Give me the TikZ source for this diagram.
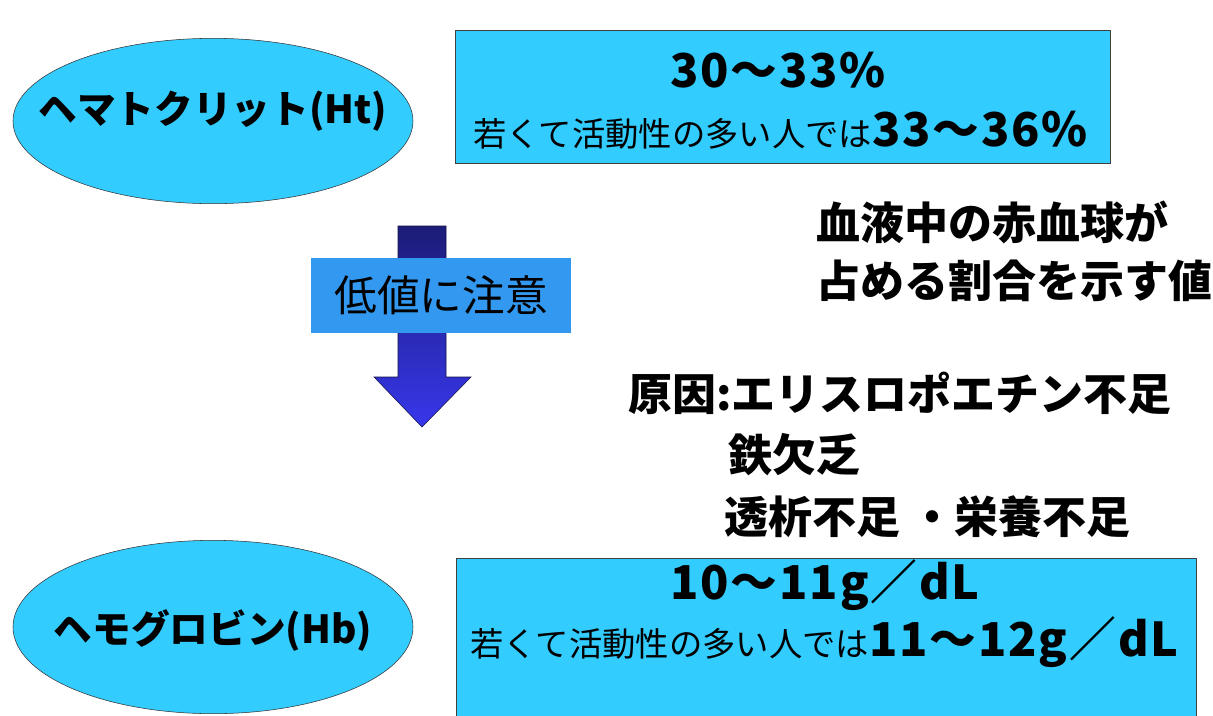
\documentclass[tikz,border=0pt]{standalone}
\usepackage{fontspec}
\setmainfont{Noto Sans CJK JP}
\usetikzlibrary{shapes.geometric}

\definecolor{skyfill}{RGB}{51,204,255}
\definecolor{tagfill}{RGB}{51,153,240}
\definecolor{arrowtop}{RGB}{28,28,120}
\definecolor{arrowbot}{RGB}{55,55,235}

\newcommand{\jpsmall}{\fontsize{25pt}{30pt}\selectfont\mdseries}
\newcommand{\numbig}{\fontsize{35pt}{42pt}\selectfont\bfseries\addfontfeature{LetterSpace=4}}

\tikzset{
  blob/.style={ellipse, draw=black!80, fill=skyfill, minimum width=300pt,
    minimum height=124pt, inner sep=0pt},
  blobtext/.style={font=\fontsize{29pt}{35pt}\selectfont\bfseries, inner sep=0pt},
  valbox/.style={draw=black!75, fill=skyfill, line width=0.6pt},
  tagbox/.style={fill=tagfill, minimum width=195pt, minimum height=56pt,
    inner sep=0pt, font=\fontsize{32pt}{38pt}\selectfont},
  note/.style={anchor=west, inner sep=0pt, font=\fontsize{33pt}{40pt}\selectfont\bfseries}
}

\begin{document}
\begin{tikzpicture}[x=0.75pt,y=-0.75pt]
    \useasboundingbox (0,0) rectangle (1213,715);
    \clip (0,0) rectangle (1213,715);

    % Ellipses on the left
    \node[blob] (ht) at (213,121) {};
    \node[blobtext] (htname) at (213,111) {ヘマトクリット(Ht)};
    \node[blob, minimum height=130pt] (hb) at (213,627) {};
    \node[blobtext] (hbname) at (213,630) {ヘモグロビン(Hb)};

    % Value boxes
    \draw[valbox] (455,30) rectangle (1110,163);
    \node[inner sep=0pt, font=\numbig] (htrange) at (778,70) {30〜33\%};
    \node[anchor=west, inner sep=0pt] (htyoung) at (473,130)
        {\jpsmall 若くて活動性の多い人では\numbig 33〜36\%};

    \draw[valbox] (456,558) rectangle (1196,730);
    \node[inner sep=0pt, font=\numbig] (hbrange) at (825,585) {10〜11g／dL};
    \node[anchor=west, inner sep=0pt] (hbyoung) at (470,642)
        {\jpsmall 若くて活動性の多い人では\numbig 11〜12g／dL};

    % Down arrow with label
    \draw[draw=arrowtop!60!black, top color=arrowtop, bottom color=arrowbot]
        (398,226) -- (446,226) -- (446,377) -- (471,377) -- (422,427)
        -- (374,377) -- (398,377) -- cycle;
    \node[tagbox] (lowtag) at (441,295.5) {低値に注意};

    % Notes on the right
    \node[note] (meaning1) at (816,222) {血液中の赤血球が};
    \node[note] (meaning2) at (816,281) {占める割合を示す値};

    \node[note] (cause1) at (628,393) {原因:エリスロポエチン不足};
    \node[note] (cause2) at (728,455) {鉄欠乏};
    \node[note] (cause3) at (724,517) {透析不足 ・栄養不足};

\end{tikzpicture}
\end{document}
